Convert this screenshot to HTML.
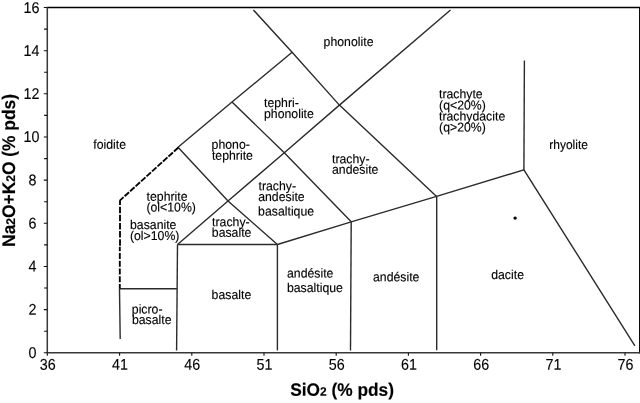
<!DOCTYPE html>
<html>
<head>
<meta charset="utf-8">
<title>TAS diagram</title>
<style>
html,body{margin:0;padding:0;background:#fff;}
body{width:640px;height:403px;overflow:hidden;font-family:"Liberation Sans",sans-serif;}
svg{display:block;will-change:transform;transform:translateZ(0);}
text{font-family:"Liberation Sans",sans-serif;fill:#000;}
.z{font-size:12.3px;stroke:#000;stroke-width:0.13;}
.n{font-size:14.3px;stroke:#000;stroke-width:0.12;}
.t{font-size:17.3px;font-weight:bold;stroke:#000;stroke-width:0.15;}
.s{font-size:12px;font-weight:bold;}
.l{stroke:#2b2b2b;stroke-width:1.4;fill:none;stroke-linecap:butt;stroke-linejoin:miter;}
.a{stroke:#383838;stroke-width:1.5;fill:none;}
.b{stroke:#000;stroke-width:1.3;fill:none;}
.k{stroke:#111;stroke-width:1.1;fill:none;}
.d{stroke:#000;stroke-width:1.85;fill:none;}
</style>
</head>
<body>
<svg width="640" height="403" viewBox="0 0 640 403">
<rect x="0" y="0" width="640" height="403" fill="#fff"/>

<!-- plot frame -->
<path class="b" d="M46.6 7.5 H639.7 V353.4"/>
<path class="a" d="M47.3 6.9 V352.7 H640"/>

<!-- y ticks -->
<path class="k" d="M43.8 7.5H47.3 M44.1 29.1H47.3 M43.8 50.7H47.3 M44.1 72.2H47.3 M43.8 93.8H47.3 M44.1 115.4H47.3 M43.8 137H47.3 M44.1 158.6H47.3 M43.8 180.1H47.3 M44.1 201.7H47.3 M43.8 223.3H47.3 M44.1 244.9H47.3 M43.8 266.5H47.3 M44.1 288H47.3 M43.8 309.6H47.3 M44.1 331.2H47.3 M43.8 352.7H47.3"/>
<!-- x ticks -->
<path class="k" d="M47.3 352.7V355.8 M119.6 352.7V355.8 M191.8 352.7V355.8 M264 352.7V355.8 M336.2 352.7V355.8 M408.4 352.7V355.8 M480.6 352.7V355.8 M552.8 352.7V355.8 M625 352.7V355.8"/>

<!-- field boundaries -->
<path class="l" d="M120.2 338.9 L119.5 288.8"/>
<path class="l" d="M119.5 288.8 H177"/>
<path class="l" d="M176.6 350.4 L177.5 244.5"/>
<path class="l" d="M177.5 244.5 H277.4"/>
<path class="l" d="M277.4 244.5 V350.4"/>
<path class="l" d="M351.2 221.8 L350.5 350.4"/>
<path class="l" d="M436.7 196.4 V350.2"/>
<path class="l" d="M524.4 60.5 L523.9 169.8"/>
<path class="l" d="M178 147.3 L232 102 L292.1 52.3"/>
<path class="l" d="M253.4 10 L292.1 52.3 L339.4 105.1 L436.6 196.4"/>
<path class="l" d="M177.5 244.5 L228 201 L284.3 152.8 L339.4 105.1 L450.5 10"/>
<path class="l" d="M178 147.3 L228 201 L277.4 244.5"/>
<path class="l" d="M232 102 L284.3 152.8 L351.2 221.8"/>
<path class="l" d="M277.4 244.5 L351.2 221.8 L436.6 196.4 L523.9 169.8 L634.9 345.8"/>

<!-- dashed -->
<path class="d" d="M120 200.3 V245.7" stroke-dasharray="6.5 1.625" stroke-dashoffset="1.7"/>
<path class="d" d="M119.8 288.8 V246.8" stroke-dasharray="6.1 1.65" stroke-dashoffset="1.3"/>
<path class="d" d="M178.4 147.5 L119.8 200.6" stroke-dasharray="6 1.4"/>

<!-- sample point -->
<circle cx="515.1" cy="218.1" r="1.7" fill="#000"/>

<!-- y labels -->
<g class="n" text-anchor="end">
<text transform="translate(39.4 12.9) rotate(0.03) scale(1.0 1.085)">16</text>
<text transform="translate(39.4 55.9) rotate(0.03) scale(1.0 1.085)">14</text>
<text transform="translate(39.4 98.9) rotate(0.03) scale(1.0 1.085)">12</text>
<text transform="translate(39.4 142.1) rotate(0.03) scale(1.0 1.085)">10</text>
<text transform="translate(36.4 185.3) rotate(0.03) scale(1.0 1.085)">8</text>
<text transform="translate(36.4 228.4) rotate(0.03) scale(1.0 1.085)">6</text>
<text transform="translate(36.4 271.6) rotate(0.03) scale(1.0 1.085)">4</text>
<text transform="translate(36.4 314.7) rotate(0.03) scale(1.0 1.085)">2</text>
<text transform="translate(36.4 357.9) rotate(0.03) scale(1.0 1.085)">0</text>
</g>
<!-- x labels -->
<g class="n" text-anchor="middle">
<text transform="translate(47.8 369.75) rotate(0.03) scale(1.0 1.085)">36</text>
<text transform="translate(120 369.75) rotate(0.03) scale(1.0 1.085)">41</text>
<text transform="translate(192.2 369.75) rotate(0.03) scale(1.0 1.085)">46</text>
<text transform="translate(264.4 369.75) rotate(0.03) scale(1.0 1.085)">51</text>
<text transform="translate(336.8 369.75) rotate(0.03) scale(1.0 1.085)">56</text>
<text transform="translate(409 369.75) rotate(0.03) scale(1.0 1.085)">61</text>
<text transform="translate(481.2 369.75) rotate(0.03) scale(1.0 1.085)">66</text>
<text transform="translate(553.4 369.75) rotate(0.03) scale(1.0 1.085)">71</text>
<text transform="translate(625.4 369.75) rotate(0.03) scale(1.0 1.085)">76</text>
</g>

<!-- axis titles -->
<text class="t" transform="translate(290.2 395.8) rotate(0.03) scale(1 1.03)">SiO<tspan class="s">2</tspan> (% pds)</text>
<text class="t" style="font-size:17.4px" transform="translate(14.9 246.9) rotate(-89.97) scale(1 1.05)">Na<tspan class="s">2</tspan>O+K<tspan class="s">2</tspan>O (% pds)</text>

<!-- field names -->
<g class="z">
<text transform="translate(93.3 148.7) rotate(0.03) scale(1.0 1.045)">foidite</text>
<text transform="translate(323.6 46.1) rotate(0.03) scale(1.0 1.045)">phonolite</text>
<text transform="translate(264 107) rotate(0.03) scale(1.0 1.045)">tephri-</text>
<text transform="translate(264 117.9) rotate(0.03) scale(1.0 1.045)">phonolite</text>
<text transform="translate(211.6 148.8) rotate(0.03) scale(1.0 1.045)">phono-</text>
<text transform="translate(211.9 159.8) rotate(0.03) scale(1.0 1.045)">tephrite</text>
<text transform="translate(332 163.2) rotate(0.03) scale(1.0 1.045)">trachy-</text>
<text transform="translate(332 173.85) rotate(0.03) scale(1.0 1.045)">andesite</text>
<text transform="translate(439 98.3) rotate(0.03) scale(1.0 1.045)">trachyte</text>
<text transform="translate(439.1 109.5) rotate(0.03) scale(1.0 1.045)">(q&lt;20%)</text>
<text transform="translate(439 120.5) rotate(0.03) scale(1.0 1.045)">trachydacite</text>
<text transform="translate(439.1 131.6) rotate(0.03) scale(1.0 1.045)">(q&gt;20%)</text>
<text transform="translate(549.3 149.0) rotate(0.03) scale(0.975 1.045)">rhyolite</text>
<text transform="translate(146.6 200.8) rotate(0.03) scale(1.0 1.045)">tephrite</text>
<text transform="translate(146.4 211.6) rotate(0.03) scale(1.0 1.045)">(ol&lt;10%)</text>
<text transform="translate(130 228.9) rotate(0.03) scale(1.0 1.045)">basanite</text>
<text transform="translate(129.9 240) rotate(0.03) scale(1.0 1.045)">(ol&gt;10%)</text>
<text transform="translate(212.1 226.2) rotate(0.03) scale(1.0 1.045)">trachy-</text>
<text transform="translate(211.8 236.8) rotate(0.03) scale(1.0 1.045)">basalte</text>
<text transform="translate(258.5 190.2) rotate(0.03) scale(1.0 1.045)">trachy-</text>
<text transform="translate(258.2 200.9) rotate(0.03) scale(1.0 1.045)">andesite</text>
<text transform="translate(258.1 215.5) rotate(0.03) scale(1.0 1.045)">basaltique</text>
<text transform="translate(131.8 313.4) rotate(0.03) scale(1.0 1.045)">picro-</text>
<text transform="translate(131.9 323.9) rotate(0.03) scale(1.0 1.045)">basalte</text>
<text transform="translate(211.6 299.0) rotate(0.03) scale(1.0 1.045)">basalte</text>
<text transform="translate(287 277.4) rotate(0.03) scale(1.0 1.045)">andésite</text>
<text transform="translate(286.9 292) rotate(0.03) scale(1.0 1.045)">basaltique</text>
<text transform="translate(373.0 281.2) rotate(0.03) scale(1.0 1.045)">andésite</text>
<text transform="translate(491.2 279.1) rotate(0.03) scale(1.0 1.045)">dacite</text>
</g>
</svg>
</body>
</html>
